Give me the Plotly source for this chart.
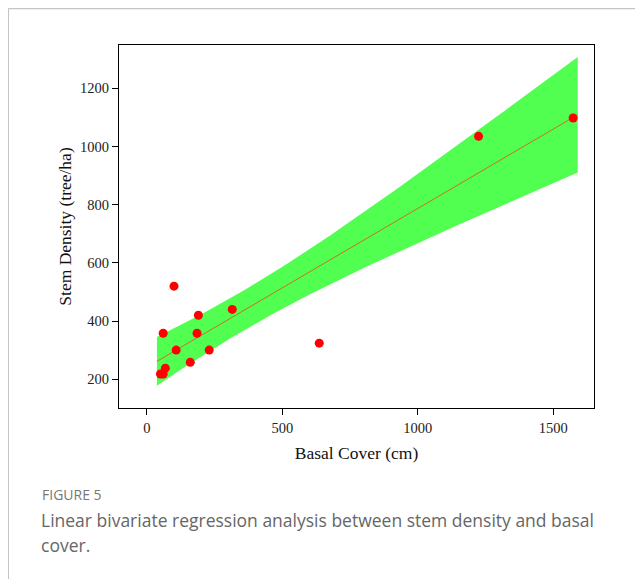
import numpy as np
import plotly.graph_objects as go

# Data
basal_cover = [50, 60, 68, 100, 108, 160, 185, 190, 230, 315, 636, 1224, 1573]
stem_density = [218, 218, 238, 520, 300, 258, 358, 420, 300, 440, 324, 1035, 1098]
extra_x = [60]
extra_y = [358]
xs = basal_cover + extra_x
ys = stem_density + extra_y

band_x_start = 37
band_x_end = 1590
t_crit = 2.179  # t(0.975, df=12)

x_ticks = [0, 500, 1000, 1500]
y_ticks = [200, 400, 600, 800, 1000, 1200]

# regression and confidence band for the mean
xa = np.array(xs, float)
ya = np.array(ys, float)
n = len(xa)
slope, intercept = np.polyfit(xa, ya, 1)
resid = ya - (intercept + slope * xa)
s = np.sqrt(np.sum(resid ** 2) / (n - 2))
sxx = np.sum((xa - xa.mean()) ** 2)
gx = np.linspace(band_x_start, band_x_end, 100)
fit = intercept + slope * gx
half = t_crit * s * np.sqrt(1 / n + (gx - xa.mean()) ** 2 / sxx)
upper = fit + half
lower = fit - half

W, H = 643, 579
OFF = 8  # page margin offset
L, R, T, B = 119.3 - OFF, 594.5 - OFF, 45 - OFF, 408 - OFF


def px(x):
    return (x - OFF - L) / (R - L)


def py(y):
    return (B - (y - OFF)) / (B - T)


fig = go.Figure()
fig.add_trace(go.Scatter(
    x=np.concatenate([gx, gx[::-1]]), y=np.concatenate([upper, lower[::-1]]),
    fill="toself", fillcolor="rgb(80,255,80)", line=dict(width=0),
    mode="lines", hoverinfo="skip", showlegend=False))
fig.add_trace(go.Scatter(x=gx, y=fit, mode="lines",
                         line=dict(color="rgb(205,110,45)", width=1),
                         showlegend=False))
fig.add_trace(go.Scatter(x=xs, y=ys, mode="markers",
                         marker=dict(color="rgb(255,0,0)", size=9),
                         showlegend=False))

axis_common = dict(
    showline=True, mirror=True, linecolor="black", linewidth=1.3,
    ticks="outside", ticklen=6, tickcolor="black", tickwidth=1,
    showgrid=False, zeroline=False,
    tickfont=dict(family="Liberation Serif", size=14.5, color="#222"),
)
fig.update_xaxes(range=[-103, 1650], tickvals=x_ticks, **axis_common,
                 title=dict(text="Basal Cover (cm)", standoff=12,
                            font=dict(family="Liberation Serif", size=17.5, color="#111")))
fig.update_yaxes(range=[101, 1349], tickvals=y_ticks, **axis_common,
                 title=dict(text="Stem Density (tree/ha)", standoff=3,
                            font=dict(family="Liberation Serif", size=17.5, color="#111")))

annos = [
    dict(text="FIGURE 5", x=px(40), y=py(494), font=dict(size=14, color="#777", family="Open Sans")),
    dict(text="Linear bivariate regression analysis between stem density and basal",
         x=px(39), y=py(520), font=dict(size=17.5, color="#666", family="Open Sans")),
    dict(text="cover.", x=px(39), y=py(545), font=dict(size=17.5, color="#666", family="Open Sans")),
]
for a in annos:
    fig.add_annotation(xref="paper", yref="paper", xanchor="left", yanchor="middle",
                       showarrow=False, **a)

fig.add_shape(type="line", xref="paper", yref="paper", x0=px(8.5), x1=px(660), y0=py(8.5), y1=py(8.5),
              line=dict(color="#c4c4c4", width=1.5))
fig.add_shape(type="line", xref="paper", yref="paper", x0=px(8.5), x1=px(8.5), y0=py(8.5), y1=py(600),
              line=dict(color="#c4c4c4", width=1.5))

fig.update_layout(width=W, height=H, plot_bgcolor="white", paper_bgcolor="white",
                  margin=dict(l=L, r=W - R, t=T, b=H - B), showlegend=False)
fig.write_html("out.html")
